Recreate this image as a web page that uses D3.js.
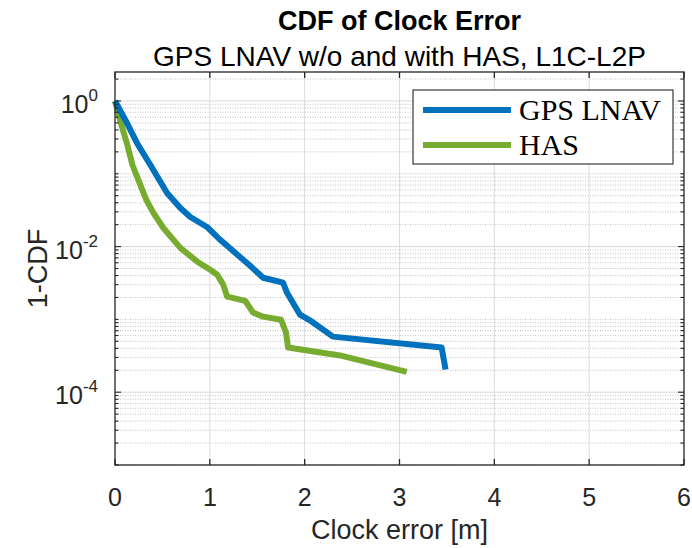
<!DOCTYPE html>
<html><head><meta charset="utf-8">
<script src="https://cdn.jsdelivr.net/npm/d3@7"></script>
<style>body{margin:0;background:#fff;} svg{display:block;}</style>
</head><body>
<svg id="chart" width="692" height="548"></svg>
<script>
// ---- data ----
const xTicks = [0, 1, 2, 3, 4, 5, 6];
const yTickExps = [0, -2, -4];
const seriesNames = ["GPS LNAV", "HAS"];
const gpsX = [0, 0.11, 0.233, 0.373, 0.549, 0.689, 0.794, 0.970, 1.109, 1.267, 1.425, 1.562, 1.772, 1.814, 1.951, 2.077, 2.298, 3.444, 3.486];
const gpsY = [1, 0.544, 0.263, 0.132, 0.0545, 0.0339, 0.0255, 0.0186, 0.0124, 0.0082, 0.00544, 0.00373, 0.00319, 0.00232, 0.00116, 0.00093, 0.00058, 0.00041, 0.000205];
const hasX = [0, 0.068, 0.131, 0.184, 0.268, 0.331, 0.405, 0.510, 0.689, 0.868, 1.004, 1.078, 1.141, 1.183, 1.372, 1.456, 1.562, 1.751, 1.803, 1.825, 2.372, 3.076];
const hasY = [1, 0.465, 0.247, 0.132, 0.070, 0.0436, 0.029, 0.018, 0.0096, 0.0062, 0.0048, 0.0041, 0.0030, 0.00205, 0.0018, 0.00124, 0.00109, 0.00099, 0.00066, 0.00041, 0.00032, 0.00019];

// ---- layout ----
const L = 115, R = 684, T = 72, B = 465;
const svg = d3.select("#chart");
const x = d3.scaleLinear().domain([0, 6]).range([L, R]);
const y = d3.scaleLog().domain([1e-5, 2.5]).range([B, T]);
const axisColor = "#262626";
const font = "Arial, 'Liberation Sans', Helvetica, sans-serif";

// minor y values
const minorVals = [];
for (let e = -5; e <= 0; e++) for (let m = 1; m <= 9; m++) {
  const v = m * Math.pow(10, e);
  if (v >= 1e-5 && v <= 2.5) minorVals.push(v);
}
const majorVals = yTickExps.map(e => Math.pow(10, e));

const grid = svg.append("g");
grid.selectAll(".ym").data(minorVals.filter(v => !majorVals.includes(v))).join("line")
  .attr("x1", L).attr("x2", R).attr("y1", d => y(d)).attr("y2", d => y(d))
  .attr("stroke", "#c4c4c4").attr("stroke-width", 1).attr("stroke-dasharray", "1,1.5");
grid.selectAll(".yM").data(majorVals).join("line")
  .attr("x1", L).attr("x2", R).attr("y1", d => y(d)).attr("y2", d => y(d))
  .attr("stroke", "#d8d8d8").attr("stroke-width", 1);
grid.selectAll(".xg").data(xTicks.slice(1, -1)).join("line")
  .attr("x1", d => x(d)).attr("x2", d => x(d)).attr("y1", T).attr("y2", B)
  .attr("stroke", "#dcdcdc").attr("stroke-width", 1);

// ---- lines ----
const line = d3.line().x(d => x(d[0])).y(d => y(d[1]));
const gpsData = gpsX.map((v, i) => [v, gpsY[i]]);
const hasData = hasX.map((v, i) => [v, hasY[i]]);
const colors = ["#0072BD", "#77AC30"];
svg.append("path").datum(hasData).attr("d", line).attr("fill", "none")
  .attr("stroke", colors[1]).attr("stroke-width", 6).attr("stroke-linejoin", "round");
svg.append("path").datum(gpsData).attr("d", line).attr("fill", "none")
  .attr("stroke", colors[0]).attr("stroke-width", 6).attr("stroke-linejoin", "round");

// ---- axes ----
const ax = svg.append("g").attr("stroke", axisColor);
ax.append("rect").attr("x", L).attr("y", T).attr("width", R - L).attr("height", B - T)
  .attr("fill", "none").attr("stroke-width", 1.3);
xTicks.forEach(t => {
  ax.append("line").attr("x1", x(t)).attr("x2", x(t)).attr("y1", B).attr("y2", B - 6).attr("stroke-width", 1.3);
  ax.append("line").attr("x1", x(t)).attr("x2", x(t)).attr("y1", T).attr("y2", T + 6).attr("stroke-width", 1.3);
});
minorVals.forEach(v => {
  const len = majorVals.includes(v) ? 6 : 3.5;
  ax.append("line").attr("x1", L).attr("x2", L + len).attr("y1", y(v)).attr("y2", y(v)).attr("stroke-width", 1.1);
  ax.append("line").attr("x1", R).attr("x2", R - len).attr("y1", y(v)).attr("y2", y(v)).attr("stroke-width", 1.1);
});

svg.selectAll(".xt").data(xTicks).join("text")
  .attr("x", d => x(d)).attr("y", 506).attr("text-anchor", "middle")
  .attr("font-family", font).attr("font-size", 25).attr("fill", axisColor)
  .text(d => d);

yTickExps.forEach(e => {
  const t = svg.append("text").attr("x", 98).attr("y", y(Math.pow(10, e)) + 12)
    .attr("text-anchor", "end").attr("font-family", font).attr("font-size", 25).attr("fill", axisColor);
  t.append("tspan").text("10");
  t.append("tspan").attr("dy", -12).attr("font-size", 17).text(e);
});

svg.append("text").attr("x", (L + R) / 2).attr("y", 539).attr("text-anchor", "middle")
  .attr("font-family", font).attr("font-size", 27).attr("fill", axisColor).text("Clock error [m]");
svg.append("text").attr("transform", `translate(47,${(T + B) / 2}) rotate(-90)`)
  .attr("text-anchor", "middle").attr("font-family", font).attr("font-size", 27).attr("fill", axisColor).text("1-CDF");

svg.append("text").attr("x", (L + R) / 2).attr("y", 30).attr("text-anchor", "middle")
  .attr("font-family", font).attr("font-weight", "bold").attr("font-size", 27).attr("fill", "#000").text("CDF of Clock Error");
svg.append("text").attr("x", (L + R) / 2).attr("y", 66).attr("text-anchor", "middle")
  .attr("font-family", font).attr("font-size", 28).attr("fill", "#000").text("GPS LNAV w/o and with HAS, L1C-L2P");

// ---- legend ----
const lg = svg.append("g");
lg.append("rect").attr("x", 413).attr("y", 90).attr("width", 260).attr("height", 74)
  .attr("fill", "#fff").attr("stroke", axisColor).attr("stroke-width", 1.1);
seriesNames.forEach((n, i) => {
  const yy = 110 + i * 35;
  lg.append("line").attr("x1", 423).attr("x2", 511).attr("y1", yy).attr("y2", yy)
    .attr("stroke", colors[i]).attr("stroke-width", 6);
  lg.append("text").attr("x", 519).attr("y", yy + 10).attr("font-family", "'Liberation Serif', 'Times New Roman', serif")
    .attr("font-size", 30).attr("fill", "#000").text(n);
});
</script>
</body></html>
